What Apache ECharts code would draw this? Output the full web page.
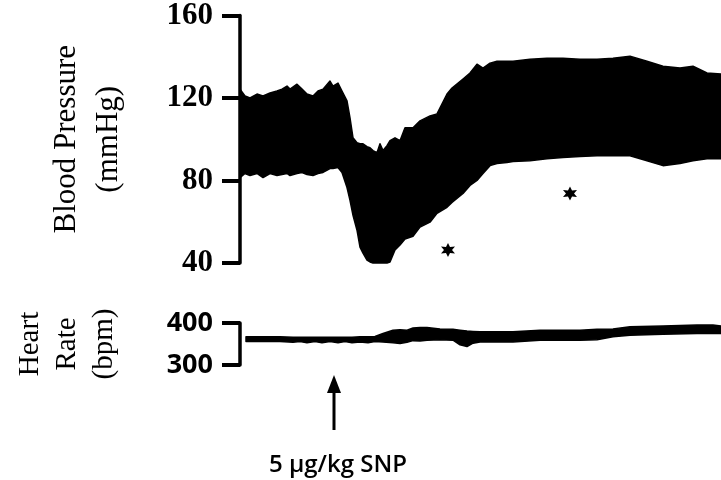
<!DOCTYPE html>
<html>
<head>
<meta charset="utf-8">
<script src="https://cdn.jsdelivr.net/npm/echarts@6/dist/echarts.min.js"></script>
<style>html,body{margin:0;padding:0;background:#fff;}#c{width:721px;height:480px;}</style>
</head>
<body>
<div id="c"></div>
<script>
// Blood pressure trace: time (arbitrary units), systolic (upper edge) and diastolic (lower edge), mmHg
const bpTime = [0,5,10,17,23,30,37,42,47,50,57,62,67,73,78,83,90,93,98,102,107,110,113,117,120,123,127,130,133,137,140,143,147,150,155,160,165,173,180,190,197,207,212,223,230,237,243,250,257,267,273,290,307,323,340,357,373,390,407,423,440,453,467,481];
const bpSys = [124.3,121.0,120.0,121.9,121.0,122.4,123.4,124.3,125.8,124.3,
  126.7,124.3,121.9,121.0,123.4,124.3,128.2,125.8,127.2,123.4,
  118.6,110.4,100.7,98.3,97.8,97.8,96.4,95.9,94.5,93.5,
  97.8,94.5,96.9,99.3,100.7,99.3,105.6,105.6,108.9,111.3,
  112.3,121.9,124.8,129.2,132.1,136.4,134.5,136.9,137.8,137.8,
  137.8,138.8,139.3,139.3,138.8,138.8,139.3,140.3,137.8,135.4,
  134.5,135.4,132.1,131.6];
const bpDia = [81.4,83.4,82.4,83.4,81.4,83.4,82.4,82.9,83.4,82.4,
  83.4,83.9,82.9,82.4,83.4,83.9,85.8,85.8,86.3,83.9,
  76.6,70.4,63.1,55.9,47.7,44.8,41.4,40.5,40,40,
  40,40,40,40.5,46.3,48.7,51.6,53.0,57.4,59.8,
  64.1,67.0,69.4,73.7,77.6,80.0,83.4,87.2,88.2,88.7,
  89.2,89.6,90.6,91.1,91.6,92.0,92.0,92.0,89.6,87.2,
  88.2,89.6,90.6,90.6];
// Significance markers
const starTime = [208, 330];
const starValue = [46.3, 73.7];
// Heart rate trace (bpm): upper and lower edges
const hrTime = [6,20,40,53,60,67,75,82,90,98,105,112,120,128,135,143,153,160,167,173,180,187,200,213,220,227,233,240,273,300,340,357,373,390,423,457,473,481];
const hrHigh = [367,367,367,366,366,366,366,366,366,366,366,366,367,367,368,375,383,384,383,388,389,389,386,385,383,381,380,379,379,383,383,385,386,391,393,395,395,393];
const hrLow = [356,356,356,354,356,353,356,353,356,353,356,353,355,353,356,355,353,351,354,358,357,359,360,359,348,344,352,355,355,359,359,360,367,371,373,375,375,375];
// Tick settings
const bpTicks = {min: 40, max: 160, interval: 40};
const hrTicks = {min: 300, max: 400, interval: 100};
// Annotation
const injectionTime = 94;
const injectionLabel = '5 μg/kg SNP';
const bpName = 'Blood Pressure\n(mmHg)';
const hrName = 'Heart\nRate\n(bpm)';

const chart = echarts.init(document.getElementById('c'), null, {renderer: 'canvas'});

function yAxisCommon(ticks, labelFont, labelSize) {
  return {
    type: 'value', min: ticks.min, max: ticks.max, interval: ticks.interval, z: 3,
    axisLine: {show: true, lineStyle: {color: '#000', width: 3.5}},
    axisTick: {show: true, length: 18, lineStyle: {color: '#000', width: 4}},
    splitLine: {show: false},
    axisLabel: {color: '#000', fontFamily: labelFont, fontSize: labelSize, margin: 27, fontWeight: 'bold'},
    nameLocation: 'middle'
  };
}

// Band renderer: one filled polygon from the upper edge and the reversed lower edge
function bandItem(params, api) {
  if (params.dataIndexInside !== 0) return null;
  const n = params.dataInsideLength;
  const top = [], bot = [];
  for (let i = 0; i < n; i++) {
    const t = api.value(0, i);
    top.push(api.coord([t, api.value(1, i)]));
    bot.push(api.coord([t, api.value(2, i)]));
  }
  return {
    type: 'polygon',
    shape: {points: top.concat(bot.reverse())},
    style: {fill: '#000', stroke: '#000', lineWidth: 1.5, lineJoin: 'round'}
  };
}

const rows = (t, a, b) => t.map((x, i) => [x, a[i], b[i]]);
const pts = (t, a) => t.map((x, i) => [x, a[i]]);

chart.setOption({
  animation: false,
  backgroundColor: '#fff',
  grid: [
    {left: 240, right: 0, top: 14, height: 249},
    {left: 240, right: 0, top: 323, height: 42}
  ],
  xAxis: [
    {type: 'value', gridIndex: 0, min: 0, max: 481, show: false},
    {type: 'value', gridIndex: 1, min: 0, max: 481, show: false}
  ],
  yAxis: [
    Object.assign(yAxisCommon(bpTicks, 'Liberation Serif', 31), {
      gridIndex: 0, name: bpName, nameGap: 110,
      nameTextStyle: {color: '#000', fontFamily: 'Liberation Serif', fontSize: 31, lineHeight: 42}
    }),
    Object.assign(yAxisCommon(hrTicks, 'Open Sans', 27), {
      gridIndex: 1, name: hrName, nameGap: 117,
      nameTextStyle: {color: '#000', fontFamily: 'Liberation Serif', fontSize: 29, lineHeight: 37}
    })
  ],
  series: [
    {type: 'custom', xAxisIndex: 0, yAxisIndex: 0, clip: false,
     data: rows(bpTime, bpSys, bpDia), encode: {x: 0, y: [1, 2]}, renderItem: bandItem},
    {type: 'scatter', xAxisIndex: 0, yAxisIndex: 0, z: 4,
     symbol: 'path://M0,-100L25,-43L87,-50L50,0L87,50L25,43L0,100L-25,43L-87,50L-50,0L-87,-50L-25,-43Z',
     symbolSize: 14, itemStyle: {color: '#000', opacity: 1},
     data: pts(starTime, starValue)},
    {type: 'custom', xAxisIndex: 1, yAxisIndex: 1, clip: false,
     data: rows(hrTime, hrHigh, hrLow), encode: {x: 0, y: [1, 2]}, renderItem: bandItem}
  ]
});

// Arrow annotation at the injection time, below the heart-rate panel
const ax = chart.convertToPixel({xAxisIndex: 1}, injectionTime);
const y0 = chart.convertToPixel({yAxisIndex: 1}, hrTicks.min);
chart.setOption({
  graphic: [
    {type: 'line', shape: {x1: ax, y1: y0 + 24, x2: ax, y2: y0 + 65}, style: {stroke: '#000', lineWidth: 3}},
    {type: 'polygon', shape: {points: [[ax, y0 + 10], [ax - 7, y0 + 28], [ax + 7, y0 + 28]]}, style: {fill: '#000'}},
    {type: 'text', x: ax + 4, y: y0 + 100,
     style: {text: injectionLabel, fill: '#000', font: '600 24px "Open Sans"', align: 'center', verticalAlign: 'middle'}}
  ]
});
</script>
</body>
</html>
